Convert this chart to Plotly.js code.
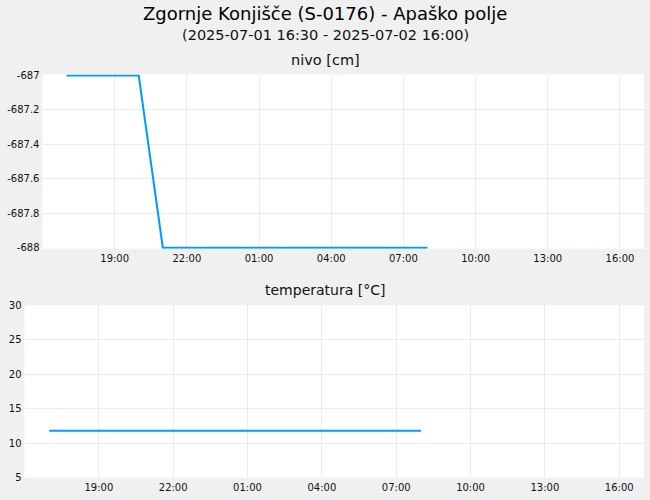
<!DOCTYPE html>
<html>
<head>
<meta charset="utf-8">
<script src="https://cdn.plot.ly/plotly-3.0.1.min.js"></script>
<style>
  body { margin: 0; background: #f0f0f0; }
  #chart { width: 650px; height: 500px; }
</style>
</head>
<body>
<div id="chart"></div>
<script>
var times = [
    "2025-07-01 17:00", "2025-07-01 18:00", "2025-07-01 19:00", "2025-07-01 20:00",
    "2025-07-01 21:00", "2025-07-01 22:00", "2025-07-01 23:00", "2025-07-02 00:00",
    "2025-07-02 01:00", "2025-07-02 02:00", "2025-07-02 03:00", "2025-07-02 04:00",
    "2025-07-02 05:00", "2025-07-02 06:00", "2025-07-02 07:00", "2025-07-02 08:00"
];
var nivo = [
    -687, -687, -687, -687,
    -688, -688, -688, -688,
    -688, -688, -688, -688,
    -688, -688, -688, -688
];
var temperatura = [
    11.8, 11.8, 11.8, 11.8,
    11.8, 11.8, 11.8, 11.8,
    11.8, 11.8, 11.8, 11.8,
    11.8, 11.8, 11.8, 11.8
];

var xTickVals = [
    "2025-07-01 19:00", "2025-07-01 22:00", "2025-07-02 01:00", "2025-07-02 04:00",
    "2025-07-02 07:00", "2025-07-02 10:00", "2025-07-02 13:00", "2025-07-02 16:00"
];
var xTickText = ["19:00", "22:00", "01:00", "04:00", "07:00", "10:00", "13:00", "16:00"];
var nivoTickVals = [-688, -687.8, -687.6, -687.4, -687.2, -687];
var nivoTickText = ["-688", "-687.8", "-687.6", "-687.4", "-687.2", "-687"];
var tempTickVals = [5, 10, 15, 20, 25, 30];

var xRange = ["2025-07-01 16:00", "2025-07-02 17:00"];

var title = "Zgornje Konjišče (S-0176) - Apaško polje";
var subtitle = "(2025-07-01 16:30 - 2025-07-02 16:00)";

var W = 650, H = 500;
var fontFamily = "DejaVu Sans, sans-serif";
var lineColor = "#0099ff";
var gridColor = "#ececec";

function px(x) { return x / W; }
function py(y) { return 1 - y / H; }

// the level line sits right on the plot edges, so pad the range by ~1px
// (and grow the domain by the same) to keep it from being half clipped
var nivoPad = 1 / 172;

var traces = [
    {
        x: times,
        y: nivo,
        type: "scatter",
        mode: "lines",
        line: { color: lineColor, width: 2 },
        xaxis: "x",
        yaxis: "y",
        hoverinfo: "skip",
    },
    {
        x: times,
        y: temperatura,
        type: "scatter",
        mode: "lines",
        line: { color: lineColor, width: 2 },
        xaxis: "x2",
        yaxis: "y2",
        hoverinfo: "skip",
    },
];

var xCommon = {
    type: "date",
    range: xRange,
    tickvals: xTickVals,
    ticktext: xTickText,
    showgrid: true,
    gridcolor: gridColor,
    gridwidth: 1,
    zeroline: false,
    showline: false,
    ticks: "",
    ticklabelstandoff: 2,
    tickfont: { family: fontFamily, size: 10, color: "#111" },
    fixedrange: true,
};

var layout = {
    width: W,
    height: H,
    paper_bgcolor: "#f0f0f0",
    plot_bgcolor: "#ffffff",
    showlegend: false,
    margin: { l: 0, r: 0, t: 0, b: 0, pad: 0 },
    font: { family: fontFamily, color: "#111" },
    xaxis: Object.assign({}, xCommon, {
        domain: [px(42.5), px(644)],
        anchor: "y",
    }),
    yaxis: {
        domain: [py(248.7), py(74.5)],
        anchor: "x",
        range: [-688 - nivoPad, -687 + nivoPad],
        tickvals: nivoTickVals,
        ticktext: nivoTickText,
        showgrid: true,
        gridcolor: gridColor,
        zeroline: false,
        ticks: "",
        ticklabelstandoff: 2,
        tickfont: { family: fontFamily, size: 10, color: "#111" },
        fixedrange: true,
    },
    xaxis2: Object.assign({}, xCommon, {
        domain: [px(24.5), px(644)],
        anchor: "y2",
    }),
    yaxis2: {
        domain: [py(477.7), py(305.3)],
        anchor: "x2",
        range: [5, 30],
        tickvals: tempTickVals,
        showgrid: true,
        gridcolor: gridColor,
        zeroline: false,
        ticks: "",
        ticklabelstandoff: 2,
        tickfont: { family: fontFamily, size: 10, color: "#111" },
        fixedrange: true,
    },
    annotations: [
        {
            text: title,
            xref: "paper", yref: "paper",
            x: 0.5, y: py(13.5),
            xanchor: "center", yanchor: "middle",
            showarrow: false,
            font: { family: fontFamily, size: 18, color: "#000" },
        },
        {
            text: subtitle,
            xref: "paper", yref: "paper",
            x: 0.5, y: py(35),
            xanchor: "center", yanchor: "middle",
            showarrow: false,
            font: { family: fontFamily, size: 14.5, color: "#111" },
        },
        {
            text: "nivo [cm]",
            xref: "paper", yref: "paper",
            x: 0.5, y: py(60),
            xanchor: "center", yanchor: "middle",
            showarrow: false,
            font: { family: fontFamily, size: 14.5, color: "#111" },
        },
        {
            text: "temperatura [°C]",
            xref: "paper", yref: "paper",
            x: 0.5, y: py(290),
            xanchor: "center", yanchor: "middle",
            showarrow: false,
            font: { family: fontFamily, size: 14, color: "#111" },
        },
    ],
};

Plotly.newPlot("chart", traces, layout, { staticPlot: true });
</script>
</body>
</html>
